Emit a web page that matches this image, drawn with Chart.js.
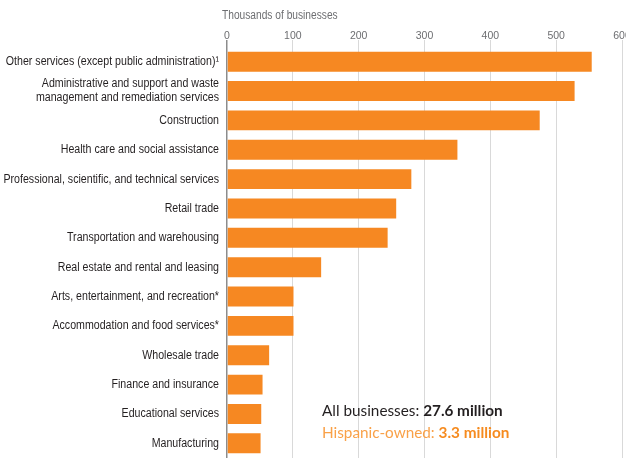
<!DOCTYPE html>
<html>
<head>
<meta charset="utf-8">
<script src="https://cdn.jsdelivr.net/npm/chart.js@4/dist/chart.umd.min.js"></script>
<style>
  html, body { margin: 0; padding: 0; background: #fff; overflow: hidden; }
  #wrap { width: 626px; height: 459px; }
</style>
</head>
<body>
<div id="wrap"><canvas id="chart" width="626" height="459"></canvas></div>
<script>
// Hispanic-owned businesses by sector, thousands
const sectors = [
    'Other services (except public administration)\u00B9',
    ['Administrative and support and waste', 'management and remediation services'],
    'Construction',
    'Health care and social assistance',
    'Professional, scientific, and technical services',
    'Retail trade',
    'Transportation and warehousing',
    'Real estate and rental and leasing',
    'Arts, entertainment, and recreation*',
    'Accommodation and food services*',
    'Wholesale trade',
    'Finance and insurance',
    'Educational services',
    'Manufacturing'
];
const businesses = [554, 528, 475, 350, 280, 257, 244, 143, 101, 101, 64, 54, 52, 51];
const xTicks = [0, 100, 200, 300, 400, 500, 600];

const axisTitle = 'Thousands of businesses';
const totalAll = ['All businesses: ', '27.6 million'];
const totalHispanic = ['Hispanic-owned: ', '3.3 million'];

const labelFont = "'Liberation Sans', Arial, sans-serif";
const noteFont = "Lato, 'Open Sans', sans-serif";
const narrow = 0.85; // reference uses a condensed face

// draw text squeezed horizontally, anchored at x
function narrowText(ctx, text, x, y, align) {
    ctx.save();
    ctx.translate(x, y);
    ctx.scale(narrow, 1);
    ctx.textAlign = align;
    ctx.fillText(text, 0, 0);
    ctx.restore();
}

const textPlugin = {
    id: 'extraText',
    afterDraw(chart) {
        const ctx = chart.ctx;
        const yScale = chart.scales.y;
        ctx.save();
        ctx.textBaseline = 'middle';

        // category labels
        ctx.fillStyle = '#231f20';
        ctx.font = `12.5px ${labelFont}`;
        sectors.forEach((label, i) => {
            const y = yScale.getPixelForTick(i);
            const lines = Array.isArray(label) ? label : [label];
            const lh = 14;
            lines.forEach((line, j) => {
                const dy = (j - (lines.length - 1) / 2) * lh;
                narrowText(ctx, line, 219, y + dy, 'right');
            });
        });

        // axis title
        ctx.fillStyle = '#6d6e71';
        ctx.font = `12px ${labelFont}`;
        narrowText(ctx, axisTitle, 222, 16, 'left');

        // totals
        const drawPair = (pair, y, c1, c2) => {
            let x = 322;
            ctx.textAlign = 'left';
            ctx.font = `15.3px ${noteFont}`;
            ctx.fillStyle = c1;
            ctx.fillText(pair[0], x, y);
            x += ctx.measureText(pair[0]).width;
            ctx.font = `bold 15.3px ${noteFont}`;
            ctx.fillStyle = c2;
            ctx.fillText(pair[1], x, y);
        };
        drawPair(totalAll, 411, '#231f20', '#231f20');
        drawPair(totalHispanic, 433, '#f9a148', '#f68b1f');
        ctx.restore();
    }
};

const ctx = document.getElementById('chart').getContext('2d');
new Chart(ctx, {
    type: 'bar',
    data: {
        labels: sectors,
        datasets: [{
            data: businesses,
            backgroundColor: '#f68822',
            borderWidth: 0,
            barPercentage: 0.68,
            categoryPercentage: 1
        }]
    },
    options: {
        indexAxis: 'y',
        responsive: false,
        animation: false,
        devicePixelRatio: 1,
        layout: { padding: { top: 0, right: 4, bottom: 1, left: 0 } },
        plugins: {
            legend: { display: false },
            tooltip: { enabled: false }
        },
        scales: {
            x: {
                position: 'top',
                min: 0,
                max: 600,
                afterBuildTicks: (scale) => {
                    scale.ticks = xTicks.map(v => ({ value: v }));
                },
                afterFit: (scale) => {
                    scale.height = 47;
                    scale.paddingRight = 0;
                    scale.paddingLeft = 0;
                },
                border: { display: false },
                grid: {
                    color: (c) => c.index === 0 ? '#8c8c8c' : '#d9d9d9',
                    lineWidth: (c) => c.index === 0 ? 1.5 : 1,
                    tickLength: 7
                },
                ticks: {
                    color: '#6d6e71',
                    padding: -2,
                    font: { family: labelFont, size: 10.5 }
                }
            },
            y: {
                afterFit: (scale) => {
                    scale.width = 227;
                    scale.paddingTop = 0;
                    scale.paddingBottom = 0;
                },
                border: { display: false },
                grid: { display: false },
                ticks: { display: false, autoSkip: false }
            }
        }
    },
    plugins: [textPlugin]
});
</script>
</body>
</html>
